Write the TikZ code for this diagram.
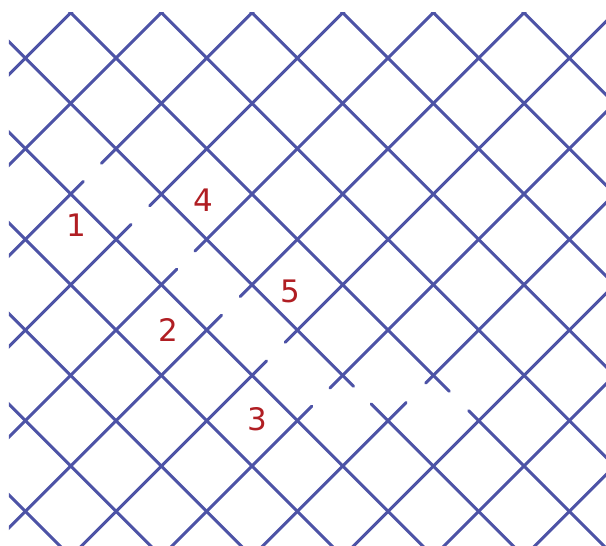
\documentclass[tikz,border=0pt]{standalone}
\usepackage{fontspec}
\setmainfont{DejaVu Sans}
\definecolor{GridBlue}{HTML}{4D53A6}
\definecolor{LabelRed}{HTML}{B01E23}

\begin{document}
\begin{tikzpicture}[x=45.33pt,y=-45.33pt,line cap=round,
    gridline/.style={GridBlue,line width=3pt},
    num/.style={text=LabelRed,font=\fontsize{31}{31}\selectfont}]
  \useasboundingbox (-0.560,-0.280) rectangle (12.808,11.743);
  \begin{scope}
    \clip (-0.362,0) rectangle (12.808,11.743);
    % whole lines
    \foreach \c in {-11,-9,...,-3,3,5,...,11}
      \draw[gridline] (\c-1,-1) -- (\c+13,13);
    \foreach \s in {1,3,19,21,23}
      \draw[gridline] (\s+1,-1) -- (\s-13,13);
    % lines cut between two crossings: s/a/stub at lower end/stub at upper end
    \foreach \s/\a/\ta/\tb in {5/1/0.28/0.32, 7/2/0.33/0.26, 9/3/0.34/0.26,
        11/4/0.33/0.26, 13/5/0.32/0.27, 15/6/0.32/0.28, 17/8/0.40/0.17} {
      \draw[gridline] (\s-13,13) -- ({\a+\ta},{\s-\a-\ta});
      \draw[gridline] ({\a+1-\tb},{\s-\a-1+\tb}) -- (\s+1,-1);
    }
    \foreach \c/\a/\ta/\tb in {-1/7/0.24/0.37, 1/9/0.35/0.22} {
      \draw[gridline] (\c-1,-1) -- ({\a+\ta},{\a-\c+\ta});
      \draw[gridline] ({\a+1-\tb},{\a-\c+1-\tb}) -- (\c+13,13);
    }
  \end{scope}
  % numbers
  \node[num] (lab1) at (1.116,4.683) {1};
  \node[num] (lab4) at (3.925,4.132) {4};
  \node[num] (lab5) at (5.852,6.155) {5};
  \node[num] (lab2) at (3.152,7.000) {2};
  \node[num] (lab3) at (5.125,8.963) {3};
\end{tikzpicture}
\end{document}
